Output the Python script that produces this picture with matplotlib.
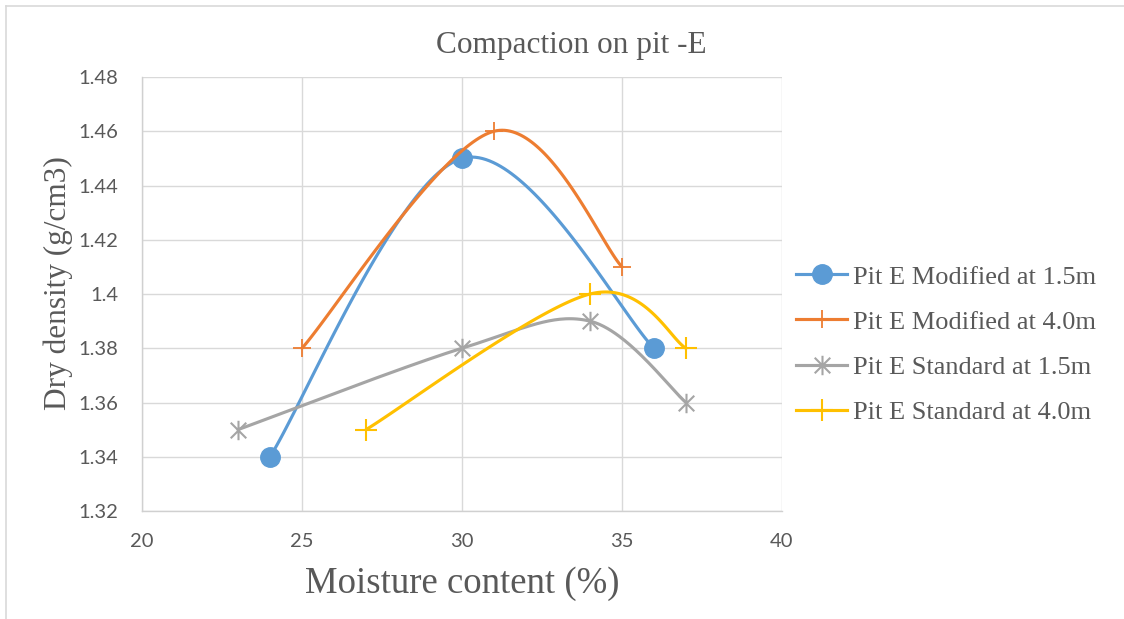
import numpy as np
import matplotlib
matplotlib.use("Agg")
import matplotlib.pyplot as plt
from matplotlib.path import Path
from matplotlib.lines import Line2D
from matplotlib.ticker import FixedLocator, FuncFormatter

# ---- data ----
title = "Compaction on pit -E"
x_label = "Moisture content (%)"
y_label = "Dry density (g/cm3)"

names = ["Pit E Modified at 1.5m", "Pit E Modified at 4.0m",
         "Pit E Standard at 1.5m", "Pit E Standard at 4.0m"]
mod15_x = [24, 30, 36]
mod15_y = [1.34, 1.45, 1.38]
mod40_x = [25, 31, 35]
mod40_y = [1.38, 1.46, 1.41]
std15_x = [23, 30, 34, 37]
std15_y = [1.35, 1.38, 1.39, 1.36]
std40_x = [27, 34, 37]
std40_y = [1.35, 1.40, 1.38]

x_ticks = [20, 25, 30, 35, 40]
y_ticks = [1.32, 1.34, 1.36, 1.38, 1.40, 1.42, 1.44, 1.46, 1.48]

# ---- styles ----
colors = ["#5B9BD5", "#ED7D31", "#A5A5A5", "#FFC000"]
star = Path([(-1, -1), (1, 1), (-1, 1), (1, -1), (0, -1.25), (0, 1.25)],
            [Path.MOVETO, Path.LINETO, Path.MOVETO, Path.LINETO, Path.MOVETO, Path.LINETO])
markers = ["o", "+", star, "+"]
msizes = [14, 13, 14, 16]
mews = [1, 1.3, 1.5, 1.5]

SERIF = ["Liberation Serif", "DejaVu Serif"]
SANS = ["Lato", "DejaVu Sans"]
TXT = "#595959"


def excel_smooth(xs, ys, n=60):
    P = np.column_stack([xs, ys]).astype(float)
    m = len(P)
    out = [P[0:1]]
    for i in range(m - 1):
        p0 = P[i - 1] if i > 0 else P[i]
        p1 = P[i]
        p2 = P[i + 1]
        p3 = P[i + 2] if i + 2 < m else P[i + 1]
        c1 = p1 + (p2 - p0) / 6.0
        c2 = p2 - (p3 - p1) / 6.0
        t = np.linspace(0, 1, n)[1:, None]
        seg = ((1 - t) ** 3) * p1 + 3 * ((1 - t) ** 2) * t * c1 + 3 * (1 - t) * t ** 2 * c2 + t ** 3 * p2
        out.append(seg)
    pts = np.vstack(out)
    return pts[:, 0], pts[:, 1]


W, H = 1124, 619
fig = plt.figure(figsize=(W / 100, H / 100), dpi=100)
ax = fig.add_axes([142 / W, 1 - 511 / H, (782 - 142) / W, (511 - 77) / H])

series = [(mod15_x, mod15_y), (mod40_x, mod40_y), (std15_x, std15_y), (std40_x, std40_y)]
handles = []
for k, (xs, ys) in enumerate(series):
    sx, sy = excel_smooth(xs, ys)
    ax.plot(sx, sy, color=colors[k], lw=2.25, zorder=3 + k, solid_capstyle="round")
    ax.plot(xs, ys, linestyle="none", marker=markers[k], ms=msizes[k], mew=mews[k],
            color=colors[k], mfc=colors[k], mec=colors[k], zorder=3 + k)
    handles.append(Line2D([], [], color=colors[k], lw=2.25, marker=markers[k], ms=msizes[k],
                          mew=mews[k], mfc=colors[k], mec=colors[k]))

ax.set_xlim(20, 40)
ax.set_ylim(1.32, 1.48)
ax.xaxis.set_major_locator(FixedLocator(x_ticks))
ax.yaxis.set_major_locator(FixedLocator(y_ticks))
ax.yaxis.set_major_formatter(FuncFormatter(lambda v, p: f"{round(v, 4):g}"))
ax.grid(True, color="#D9D9D9", lw=1.0, zorder=0)
ax.set_axisbelow(True)
for s in ["top", "right"]:
    ax.spines[s].set_visible(False)
for s in ["left", "bottom"]:
    ax.spines[s].set_color("#D0D0D0")
    ax.spines[s].set_linewidth(1.0)
ax.tick_params(length=0, labelcolor=TXT, labelsize=14.5)
ax.tick_params(axis="y", pad=17)
ax.tick_params(axis="x", pad=16)
for lab in ax.get_xticklabels() + ax.get_yticklabels():
    lab.set_family(SANS)

fig.text(571 / W, 1 - 45 / H, title, ha="center", va="center", family=SERIF,
         fontsize=22.5, color=TXT)
fig.text(462 / W, 1 - 584 / H, x_label, ha="center", va="center", family=SERIF,
         fontsize=26.5, color=TXT)
fig.text(58 / W, 1 - 283 / H, y_label, ha="center", va="center", rotation=90,
         family=SERIF, fontsize=22.5, color=TXT)

leg = fig.legend(handles, names, loc="center left", bbox_to_anchor=(796 / W, 1 - 344.5 / H),
                 frameon=False, borderpad=0, borderaxespad=0, handlelength=1.95,
                 handletextpad=0.2, labelspacing=0.82,
                 prop={"family": SERIF, "size": 19})
for t in leg.get_texts():
    t.set_color(TXT)

# outer chart border (top and left visible)
fig.add_artist(Line2D([6 / W, 1.0], [1 - 6 / H, 1 - 6 / H], transform=fig.transFigure,
                      color="#D9D9D9", lw=1.2))
fig.add_artist(Line2D([6 / W, 6 / W], [0, 1 - 6 / H], transform=fig.transFigure,
                      color="#D9D9D9", lw=1.2))

fig.savefig("out.png", dpi=100)
